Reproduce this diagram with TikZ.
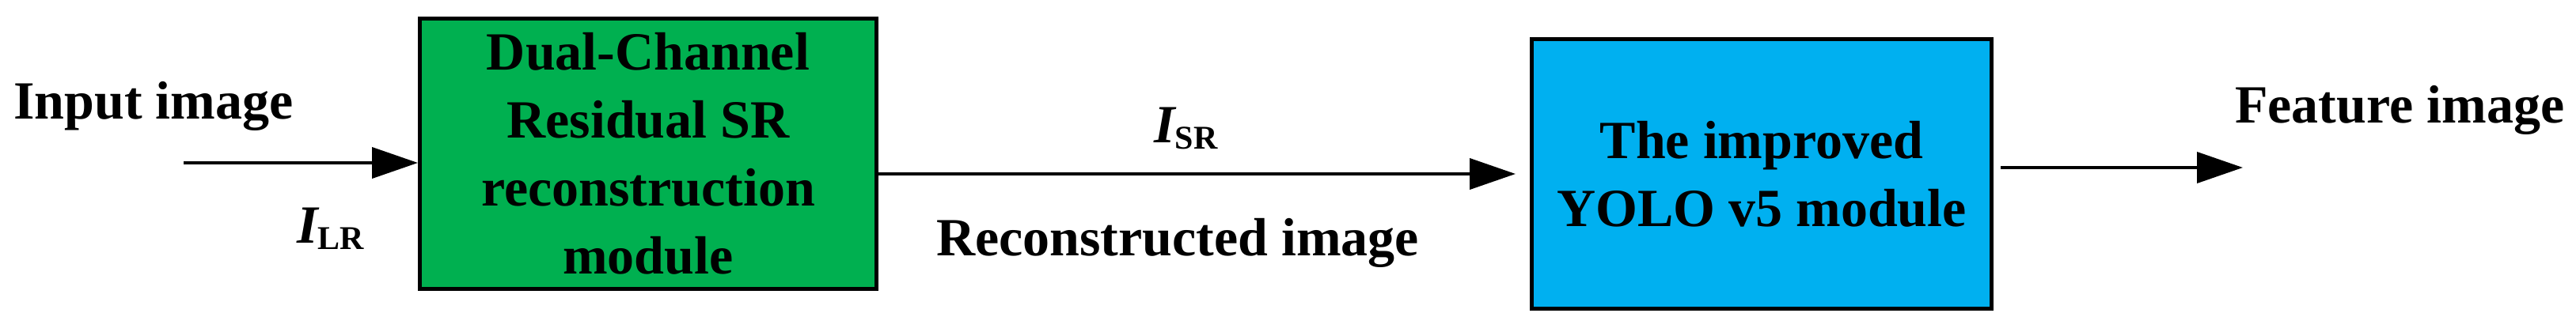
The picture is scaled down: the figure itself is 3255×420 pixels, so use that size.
\documentclass[tikz,border=0pt]{standalone}
\usepackage{fontspec}
\setmainfont{Liberation Serif}
\usetikzlibrary{arrows.meta}
\definecolor{boxgreen}{RGB}{0,176,80}
\definecolor{boxblue}{RGB}{0,176,240}
\newcommand{\subtxt}[1]{\raisebox{-8pt}{\fontsize{42}{42}\selectfont #1}}
\begin{document}
\begin{tikzpicture}[x=1pt,y=-1pt,
  lbl/.style={inner sep=0pt, font=\fontsize{68}{86}\selectfont\bfseries},
  modbox/.style={draw=black, line width=5pt, inner sep=0pt, align=center,
    font=\fontsize{68}{86}\selectfont\bfseries},
  flow/.style={line width=4pt, -{Triangle[length=58pt,width=39pt]}}]
\useasboundingbox (0,0) rectangle (3255,420);
% modules
\node[modbox, fill=boxgreen, minimum width=577pt, minimum height=342pt]
  (sr) at (819,194.5) {Dual-Channel\\Residual SR\\reconstruction\\module};
\node[modbox, fill=boxblue, minimum width=581pt, minimum height=341pt]
  (yolo) at (2226,220) {The improved\\YOLO v5 module};
% labels
\node[lbl, anchor=base west] (inlbl) at (17,150) {Input image};
\node[lbl, anchor=base west] (ilr) at (375,307) {{\itshape I}\subtxt{LR}};
\node[lbl, anchor=base west] (isr) at (1458,180) {{\itshape I}\subtxt{SR}};
\node[lbl, anchor=base] (reclbl) at (1488,323) {Reconstructed image};
\node[lbl, anchor=base west] (featlbl) at (2824,155) {Feature image};
% connectors
\coordinate (instart) at (232,206);
\coordinate (featend) at (2834,212);
\draw[flow] (instart) -- (instart -| sr.west);
\draw[flow, shorten >=18pt] (yolo.west -| sr.east) -- (yolo.west);
\draw[flow, shorten <=9pt] (featend -| yolo.east) -- (featend);
\end{tikzpicture}
\end{document}
